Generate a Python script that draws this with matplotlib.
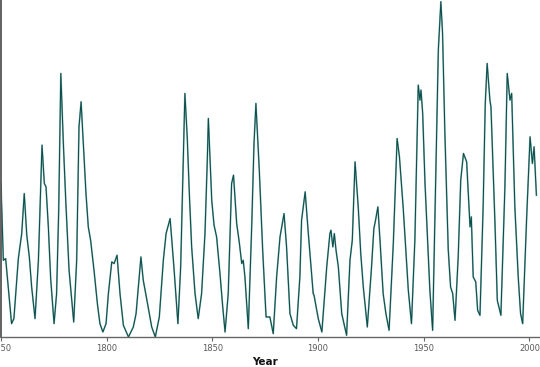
import matplotlib
matplotlib.use("Agg")
import matplotlib.pyplot as plt

# smoothed monthly sunspot number
years = [
    1750.0, 1751.1, 1752.2, 1755.0, 1756.1, 1758.2, 1759.8, 1761.0, 1762.2, 1763.4,
    1764.5, 1766.1, 1767.7, 1769.4, 1770.5, 1771.3, 1772.4, 1773.5, 1775.1, 1776.3,
    1777.3, 1778.3, 1779.5, 1780.7, 1782.2, 1784.4, 1785.8, 1786.9, 1787.9, 1788.9,
    1790.2, 1791.3, 1792.4, 1794.0, 1795.6, 1796.8, 1798.2, 1799.7, 1800.8, 1802.4,
    1803.5, 1804.9, 1806.3, 1807.9, 1810.3, 1812.6, 1813.9, 1816.2, 1817.3, 1818.9,
    1821.3, 1823.0, 1824.9, 1826.8, 1828.1, 1830.0, 1831.8, 1833.7, 1835.0, 1836.2,
    1837.0, 1838.1, 1839.1, 1840.2, 1841.8, 1843.3, 1844.9, 1846.5, 1847.6, 1848.1,
    1849.7, 1850.8, 1852.0, 1853.6, 1854.9, 1856.0, 1857.5, 1859.1, 1860.0, 1861.5,
    1862.7, 1863.9, 1864.6, 1865.4, 1867.0, 1868.6, 1869.7, 1870.6, 1872.2, 1873.8,
    1875.4, 1877.2, 1878.8, 1880.4, 1882.0, 1883.9, 1885.1, 1886.7, 1888.3, 1889.8,
    1891.4, 1892.2, 1893.9, 1895.4, 1897.7, 1898.1, 1900.1, 1901.8, 1904.1, 1905.6,
    1906.1, 1907.0, 1907.7, 1908.5, 1909.6, 1911.2, 1913.5, 1915.1, 1916.2, 1917.5,
    1919.0, 1920.2, 1921.4, 1923.3, 1925.3, 1926.4, 1927.2, 1928.3, 1929.3, 1930.8,
    1932.1, 1933.6, 1935.6, 1937.4, 1938.5, 1940.3, 1941.7, 1942.7, 1944.2, 1945.8,
    1947.4, 1948.2, 1948.7, 1949.5, 1950.6, 1951.4, 1952.9, 1954.2, 1955.8, 1956.9,
    1958.1, 1958.9, 1960.0, 1961.6, 1962.7, 1963.7, 1964.8, 1966.3, 1967.5, 1968.8,
    1970.3, 1971.9, 1972.5, 1973.4, 1974.6, 1975.5, 1976.6, 1978.1, 1979.1, 1980.0,
    1981.3, 1981.8, 1983.7, 1984.8, 1986.5, 1988.4, 1989.5, 1990.8, 1991.6, 1993.1,
    1994.7, 1995.8, 1996.8, 1998.7, 2000.3, 2001.4, 2002.2, 2003.3,
]
ssn = [
    92, 46, 47, 8, 11, 47, 62, 86, 61, 48,
    30, 11, 46, 115, 92, 90, 66, 35, 8, 26,
    76, 158, 116, 80, 40, 9, 46, 126, 141, 117,
    86, 66, 58, 40, 20, 8, 3, 8, 26, 45,
    44, 49, 26, 7, 0, 6, 14, 48, 34, 23,
    6, 0, 12, 46, 62, 71, 42, 8, 42, 106,
    146, 120, 86, 54, 26, 11, 26, 62, 106, 131,
    82, 67, 60, 38, 18, 3, 26, 92, 97, 68,
    57, 44, 46, 36, 5, 66, 116, 140, 100, 52,
    12, 12, 2, 36, 60, 74, 54, 14, 7, 5,
    36, 70, 87, 62, 26, 25, 11, 3, 42, 62,
    64, 54, 62, 52, 42, 14, 1, 46, 58, 105,
    78, 50, 30, 6, 42, 65, 70, 78, 58, 26,
    14, 4, 56, 119, 108, 77, 49, 28, 8, 58,
    151, 142, 148, 134, 92, 70, 28, 4, 102, 172,
    201, 182, 122, 52, 30, 26, 10, 48, 94, 110,
    105, 66, 72, 36, 33, 16, 13, 78, 140, 164,
    142, 138, 68, 22, 13, 90, 158, 142, 146, 78,
    36, 14, 8, 72, 120, 104, 114, 85,
]
tick_years = [1750, 1800, 1850, 1900, 1950, 2000]

fig = plt.figure(figsize=(5.4, 3.67), dpi=100)
ax = fig.add_axes([1 / 540, 30 / 367, 539 / 540, 337 / 367])

# light halo under a thin dark line, like the original rendering
ax.plot(years, ssn, color="#8fbab7", linewidth=1.25, solid_joinstyle="round")
ax.plot(years, ssn, color="#0a4d4a", linewidth=0.75, solid_joinstyle="round")

ax.set_xlim(1750, 2005)
ax.set_ylim(0, 202)

for side in ["top", "right"]:
    ax.spines[side].set_visible(False)
ax.spines["left"].set_color("#555555")
ax.spines["left"].set_linewidth(1.3)
ax.spines["bottom"].set_color("#666666")
ax.spines["bottom"].set_linewidth(1.0)

ax.set_yticks([])
ax.set_xticks(tick_years)
ax.set_xticklabels([str(y) for y in tick_years],
                   family=["Liberation Sans Narrow", "DejaVu Sans"], fontsize=6)
ax.tick_params(axis="x", direction="out", length=3, width=0.8,
               color="#666666", labelcolor="#5a5a5a", pad=2)

fig.text(265 / 540, 1 - 362 / 367, "Year", ha="center", va="center",
         fontsize=7.5, fontweight="bold", color="#111111")

fig.savefig("out.png", dpi=100)
